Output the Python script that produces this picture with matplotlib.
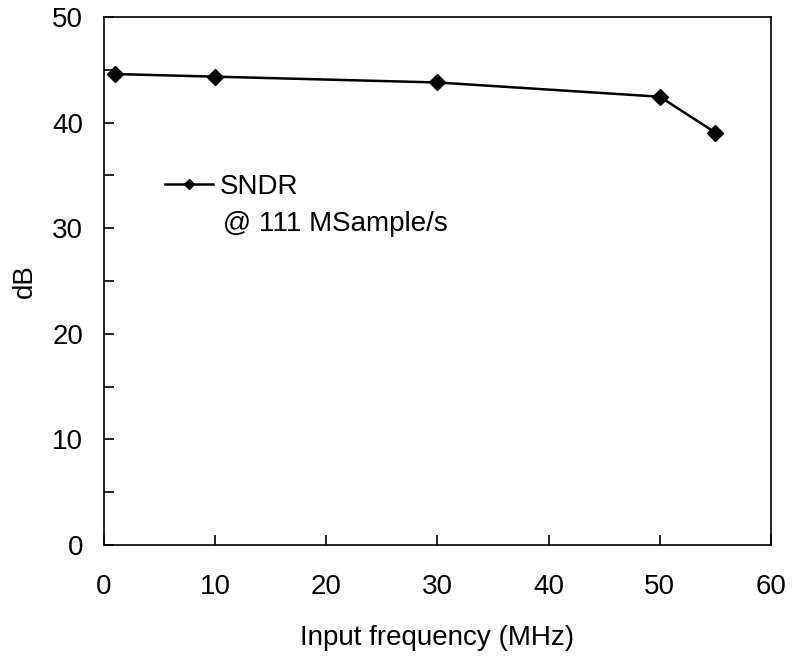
import matplotlib.pyplot as plt
from matplotlib.ticker import MultipleLocator

plt.rcParams['font.family'] = ['Liberation Sans', 'DejaVu Sans']

freq_mhz = [1, 10, 30, 50, 55]
sndr_db = [44.6, 44.35, 43.8, 42.45, 39.05]

fig = plt.figure(figsize=(7.92, 6.57), dpi=100)
ax = fig.add_axes([104 / 792, 1 - 545 / 657, (771 - 104) / 792, (545 - 17) / 657])

line, = ax.plot(freq_mhz, sndr_db, color='black', linewidth=1.8,
                marker='D', markersize=8.5, label='SNDR')

ax.set_xlim(0, 60)
ax.set_ylim(0, 50)
ax.xaxis.set_major_locator(MultipleLocator(10))
ax.yaxis.set_major_locator(MultipleLocator(10))
ax.yaxis.set_minor_locator(MultipleLocator(5))
ax.tick_params(axis='both', which='both', direction='in', length=7, width=1.2,
               labelsize=20)
ax.tick_params(axis='y', pad=15)
ax.tick_params(axis='x', pad=21)
for s in ax.spines.values():
    s.set_linewidth(1.2)

ax.set_xlabel('Input frequency (MHz)', fontsize=20, labelpad=18)
ax.set_ylabel('dB', fontsize=20, labelpad=10)

ax.legend(handles=[line], loc='center left', bbox_to_anchor=(0.0915, 0.678),
          frameon=False, fontsize=20, handlelength=1.73, handletextpad=0.25,
          borderpad=0, borderaxespad=0, markerscale=0.6)
ax.text(0.178, 0.608, '@ 111 MSample/s', transform=ax.transAxes, fontsize=20,
        va='center', ha='left')

fig.savefig('out.png', dpi=100)
